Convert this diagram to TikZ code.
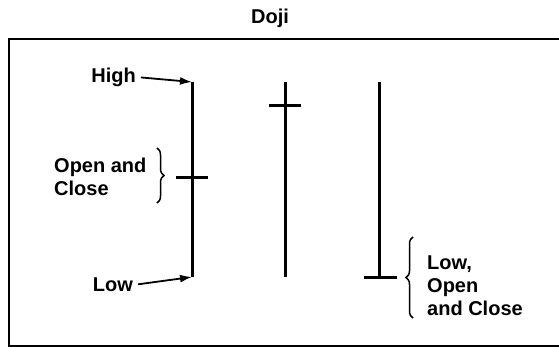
\documentclass[tikz,border=0pt]{standalone}
\usepackage{fontspec}
\setmainfont{Liberation Sans}
\usetikzlibrary{arrows.meta,decorations.pathreplacing,positioning}

\begin{document}
\begin{tikzpicture}[
  x=1pt,y=-1pt,
  lbl/.style={font=\bfseries\fontsize{20}{23}\selectfont,inner sep=0pt,align=left},
  wick/.style={line width=3pt},
  ptr/.style={-{Latex[length=12pt,width=8pt]},line width=1.8pt,shorten <=5pt},
  curly/.style={decorate,decoration={brace,amplitude=7pt},line width=1.5pt},
]
\useasboundingbox (0,0) rectangle (559,347);
% frame
\draw[line width=2pt] (559,39) -- (9,39) -- (9,346) -- (559,346);
\node[lbl] (title) at (270,18) {Doji};

% candles: high, low, open/close tick
\coordinate (hiA) at (192,82);  \coordinate (loA) at (192,277);
\coordinate (hiB) at (285,82);  \coordinate (loB) at (285,277);
\coordinate (hiC) at (379,82);  \coordinate (loC) at (379,277);
\draw[wick] (hiA) -- (loA);
\draw[wick] (hiB) -- (loB);
\draw[wick] (hiC) -- (loC);
\draw[wick] (176,178) -- (208,178);
\draw[wick] (269,106) -- (301,106);
\draw[wick] (364,277) -- (397,277);

\node[lbl,anchor=east] (high) at (136,77) {High};
\node[lbl,anchor=east] (low) at (133,285) {Low};
\draw[ptr] (high.east) -- (hiA);
\draw[ptr] (low.east) -- (loA);

\node[lbl,anchor=west] (oc) at (54,177) {Open and\\Close};
\draw[curly] (157,148) -- (157,203);

\node[lbl,anchor=west] (loc) at (427,286) {Low,\\Open\\and Close};
\draw[curly] (413,318) -- (413,237);
\end{tikzpicture}
\end{document}
